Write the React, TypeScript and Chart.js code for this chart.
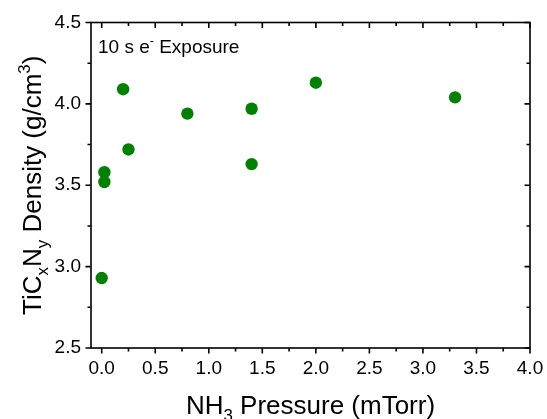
import React, { useEffect, useRef } from "react";
import { Chart, registerables } from "chart.js";

Chart.register(...registerables);

// NH3 pressure (mTorr) and TiCxNy density (g/cm3)
const pressure = [0, 0.025, 0.025, 0.2, 0.25, 0.8, 1.4, 1.4, 2.0, 3.3];
const density = [2.93, 3.58, 3.52, 4.09, 3.72, 3.94, 3.97, 3.63, 4.13, 4.04];

const xTicks = [0, 0.5, 1.0, 1.5, 2.0, 2.5, 3.0, 3.5, 4.0];
const yTicks = [2.5, 3.0, 3.5, 4.0, 4.5];
const xMinor = [0.25, 0.75, 1.25, 1.75, 2.25, 2.75, 3.25, 3.75];
const yMinor = [2.75, 3.25, 3.75, 4.25];

const X_MIN = -0.1;
const X_MAX = 4.0;
const Y_MIN = 2.5;
const Y_MAX = 4.5;

const annotationText = [
  { t: "10 s e", k: "n" },
  { t: "-", k: "sup" },
  { t: " Exposure", k: "n" },
];
const xTitle = [
  { t: "NH", k: "n" },
  { t: "3", k: "sub" },
  { t: " Pressure (mTorr)", k: "n" },
];
const yTitle = [
  { t: "TiC", k: "n" },
  { t: "x", k: "sub" },
  { t: "N", k: "n" },
  { t: "y", k: "sub" },
  { t: " Density (g/cm", k: "n" },
  { t: "3", k: "sup" },
  { t: ")", k: "n" },
];

const FONT = "'Liberation Sans', Arial, sans-serif";
const GREEN = "#008000";

type Seg = { t: string; k: string };

function segFont(size: number, k: string) {
  const s = k === "n" ? size : size * 0.65;
  return `${s}px ${FONT}`;
}

function richWidth(ctx: CanvasRenderingContext2D, segs: Seg[], size: number) {
  let w = 0;
  for (const s of segs) {
    ctx.font = segFont(size, s.k);
    w += ctx.measureText(s.t).width;
  }
  return w;
}

function drawRich(ctx: CanvasRenderingContext2D, segs: Seg[], size: number, x: number, y: number) {
  let cx = x;
  ctx.textBaseline = "alphabetic";
  ctx.textAlign = "left";
  for (const s of segs) {
    ctx.font = segFont(size, s.k);
    let dy = 0;
    if (s.k === "sub") dy = size * 0.28;
    if (s.k === "sup") dy = -size * 0.42;
    ctx.fillText(s.t, cx, y + dy);
    cx += ctx.measureText(s.t).width;
  }
}

const framePlugin = {
  id: "framePlugin",
  afterDraw(chart: any) {
    const ctx: CanvasRenderingContext2D = chart.ctx;
    const { left, right, top, bottom } = chart.chartArea;
    const xs = chart.scales.x;
    const ys = chart.scales.y;
    ctx.save();
    ctx.strokeStyle = "#000";
    ctx.fillStyle = "#000";
    ctx.lineWidth = 1.6;
    ctx.strokeRect(left, top, right - left, bottom - top);
    const MAJ = 5.5;
    const MIN = 3.5;
    ctx.beginPath();
    for (const v of xTicks) {
      const px = xs.getPixelForValue(v);
      ctx.moveTo(px, bottom);
      ctx.lineTo(px, bottom + MAJ);
      ctx.moveTo(px, top);
      ctx.lineTo(px, top + MAJ);
    }
    for (const v of xMinor) {
      const px = xs.getPixelForValue(v);
      ctx.moveTo(px, bottom);
      ctx.lineTo(px, bottom + MIN);
      ctx.moveTo(px, top);
      ctx.lineTo(px, top + MIN);
    }
    for (const v of yTicks) {
      const py = ys.getPixelForValue(v);
      ctx.moveTo(left, py);
      ctx.lineTo(left - MAJ, py);
      ctx.moveTo(right, py);
      ctx.lineTo(right - MAJ, py);
    }
    for (const v of yMinor) {
      const py = ys.getPixelForValue(v);
      ctx.moveTo(left, py);
      ctx.lineTo(left - MIN, py);
      ctx.moveTo(right, py);
      ctx.lineTo(right - MIN, py);
    }
    ctx.stroke();

    // annotation
    drawRich(ctx, annotationText as Seg[], 19, left + 7, top + 30);

    // x title
    const tSize = 26;
    const xw = richWidth(ctx, xTitle as Seg[], tSize);
    drawRich(ctx, xTitle as Seg[], tSize, (left + right) / 2 - xw / 2, 414);

    // y title
    const yw = richWidth(ctx, yTitle as Seg[], tSize);
    ctx.translate(41, (top + bottom) / 2);
    ctx.rotate(-Math.PI / 2);
    drawRich(ctx, yTitle as Seg[], tSize, -yw / 2, 0);
    ctx.restore();
  },
};

export default function App() {
  const ref = useRef<HTMLCanvasElement | null>(null);
  useEffect(() => {
    if (!ref.current) return;
    const chart = new Chart(ref.current, {
      type: "scatter",
      data: {
        datasets: [
          {
            data: pressure.map((p, i) => ({ x: p, y: density[i] })),
            backgroundColor: GREEN,
            borderColor: GREEN,
            borderWidth: 0,
            pointRadius: 6.2,
            pointHoverRadius: 6.2,
          },
        ],
      },
      options: {
        animation: false,
        responsive: false,
        devicePixelRatio: 1,
        layout: { padding: { top: 22.5, right: 17, left: 0, bottom: 0 } },
        plugins: { legend: { display: false }, tooltip: { enabled: false } },
        scales: {
          x: {
            type: "linear",
            min: X_MIN,
            max: X_MAX,
            grid: { display: false, drawTicks: false },
            border: { display: false },
            afterBuildTicks: (s: any) => {
              s.ticks = xTicks.map((v) => ({ value: v }));
            },
            afterFit: (s: any) => {
              s.height = 71;
              s.paddingLeft = 0;
              s.paddingRight = 0;
            },
            ticks: {
              color: "#000",
              padding: 9,
              font: { family: FONT, size: 19 },
              callback: (v: any) => Number(v).toFixed(1),
              maxRotation: 0,
              autoSkip: false,
            },
          },
          y: {
            type: "linear",
            min: Y_MIN,
            max: Y_MAX,
            grid: { display: false, drawTicks: false },
            border: { display: false },
            afterBuildTicks: (s: any) => {
              s.ticks = yTicks.map((v) => ({ value: v }));
            },
            afterFit: (s: any) => {
              s.width = 91;
              s.paddingTop = 0;
              s.paddingBottom = 0;
            },
            ticks: {
              color: "#000",
              padding: 10,
              font: { family: FONT, size: 19 },
              callback: (v: any) => Number(v).toFixed(1),
              autoSkip: false,
            },
          },
        },
      },
      plugins: [framePlugin],
    } as any);
    return () => chart.destroy();
  }, []);
  return (
    <div style={{ position: "absolute", left: 0, top: 0, width: 547, height: 419, background: "#fff" }}>
      <canvas ref={ref} width={547} height={419} />
    </div>
  );
}
